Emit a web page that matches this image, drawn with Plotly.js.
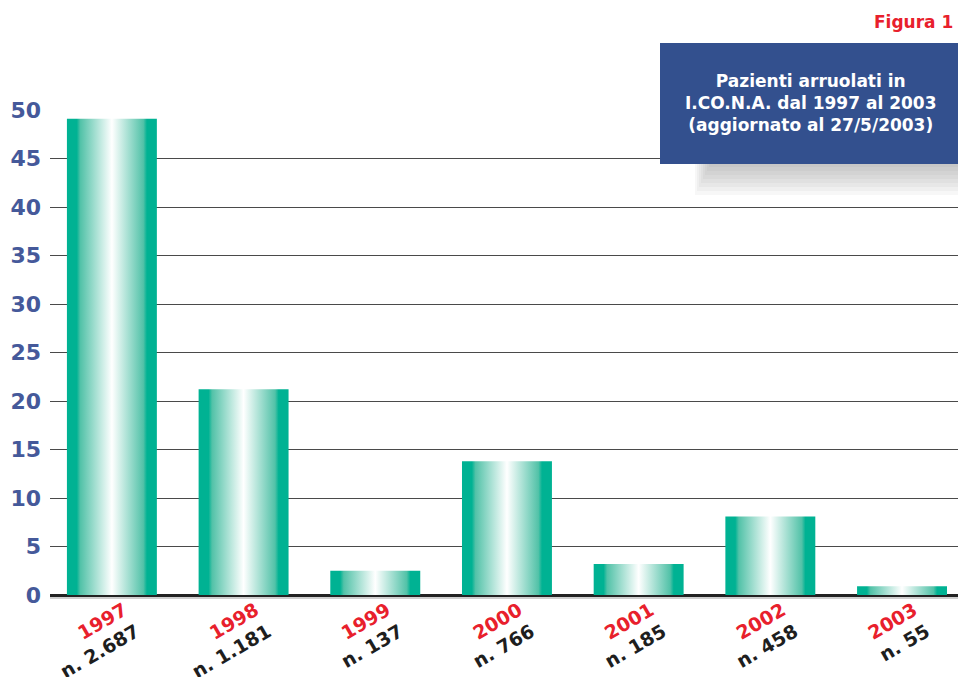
<!DOCTYPE html>
<html>
<head>
<meta charset="utf-8">
<script src="https://cdn.plot.ly/plotly-3.0.1.min.js"></script>
<style>
  html, body { margin: 0; padding: 0; background: #fff; }
  #chart { width: 958px; height: 677px; }
</style>
</head>
<body>
<div id="chart"></div>
<script>
// Enrolled patients per year (% of total).
const years = ["1997", "1998", "1999", "2000", "2001", "2002", "2003"];
const patients = [2687, 1181, 137, 766, 185, 458, 55];
const percent = [49.1, 21.2, 2.5, 13.8, 3.2, 8.1, 0.9];
const yTicks = [0, 5, 10, 15, 20, 25, 30, 35, 40, 45, 50];

const W = 958, H = 677;
const margin = { l: 50, r: 0, t: 110, b: 82 };
const barWidth = 0.683;
const FONT = "DejaVu Sans, Liberation Sans, Arial, sans-serif";

// pixel -> paper helpers, only for the decorative title box
const px = (x) => (x - margin.l) / (W - margin.l - margin.r);
const py = (y) => (H - margin.b - y) / (H - margin.t - margin.b);

function fmtCount(n) {
  return String(n).replace(/\B(?=(\d{3})+(?!\d))/g, ".");
}

const teal = "#00b293";
const barScale = [
  [0, teal], [0.11, teal], [0.15, "#52c2a8"], [0.5, "#ffffff"],
  [0.85, "#52c2a8"], [0.89, teal], [1, teal],
];

// each bar is a filled polygon so it can carry a horizontal gradient
const traces = years.map((yr, i) => {
  const x0 = i - barWidth / 2, x1 = i + barWidth / 2;
  return {
    type: "scatter", mode: "lines",
    x: [x0, x0, x1, x1, x0],
    y: [0, percent[i], percent[i], 0, 0],
    fill: "toself",
    fillgradient: { type: "horizontal", colorscale: barScale },
    line: { width: 0, color: teal },
    hoveron: "fills",
    name: yr,
    text: `${yr}: ${percent[i]}% (n. ${fmtCount(patients[i])})`,
    hoverinfo: "text",
    showlegend: false,
  };
});

const tickText = years.map((yr, i) =>
  `<span style="color:#e8202c">${yr}</span><br>n. ${fmtCount(patients[i])}`);

const shapes = [];
// soft shadow under the title box, built from thin translucent bands
for (let k = 1; k <= 8; k++) {
  shapes.push({
    type: "rect", xref: "paper", yref: "paper", layer: "above",
    x0: px(695 + (8 - k) * 2), x1: 1, y0: py(163 + k * 4), y1: py(163),
    fillcolor: "#707070", opacity: 0.055, line: { width: 0 },
  });
}
shapes.push({
  type: "rect", xref: "paper", yref: "paper", layer: "above",
  x0: px(660), x1: 1, y0: py(164), y1: py(43),
  fillcolor: "#33508e", line: { width: 0 },
});
// light line just under the baseline
shapes.push({
  type: "line", xref: "paper", yref: "paper", layer: "below",
  x0: 0, x1: 1, y0: py(598), y1: py(598),
  line: { color: "#cfcfcf", width: 2 },
});

const annotations = [
  {
    xref: "paper", yref: "paper", x: px(810), y: py(103),
    xanchor: "center", yanchor: "middle", showarrow: false,
    text: "Pazienti arruolati in<br>I.CO.N.A. dal 1997 al 2003<br>(aggiornato al 27/5/2003)",
    font: { family: FONT, size: 17, color: "#ffffff", weight: 700 },
  },
  {
    xref: "paper", yref: "paper", x: 1, y: py(22), xshift: -3,
    xanchor: "right", yanchor: "middle", showarrow: false,
    text: "Figura 1",
    font: { family: FONT, size: 17, color: "#e8202c", weight: 700 },
  },
];

const layout = {
  width: W, height: H,
  margin,
  paper_bgcolor: "white",
  plot_bgcolor: "white",
  showlegend: false,
  xaxis: {
    range: [-0.47, 6.425],
    tickmode: "array",
    tickvals: years.map((_, i) => i),
    ticktext: tickText,
    tickangle: -30,
    showgrid: false, zeroline: false, showline: false,
    ticks: "", ticklabelstandoff: 0, ticklabelshift: 12,
    tickfont: { family: FONT, size: 19, color: "#1e1e1e", weight: 700 },
  },
  yaxis: {
    range: [0, 50],
    tickmode: "array",
    tickvals: yTicks,
    showgrid: true, gridcolor: "#4a4a4a", gridwidth: 1,
    zeroline: true, zerolinecolor: "#222222", zerolinewidth: 2.5,
    showline: false, ticks: "", ticklabelstandoff: 8,
    tickfont: { family: FONT, size: 22, color: "#45599a", weight: 700 },
  },
  shapes,
  annotations,
};

Plotly.newPlot("chart", traces, layout, { displayModeBar: false });
</script>
</body>
</html>
